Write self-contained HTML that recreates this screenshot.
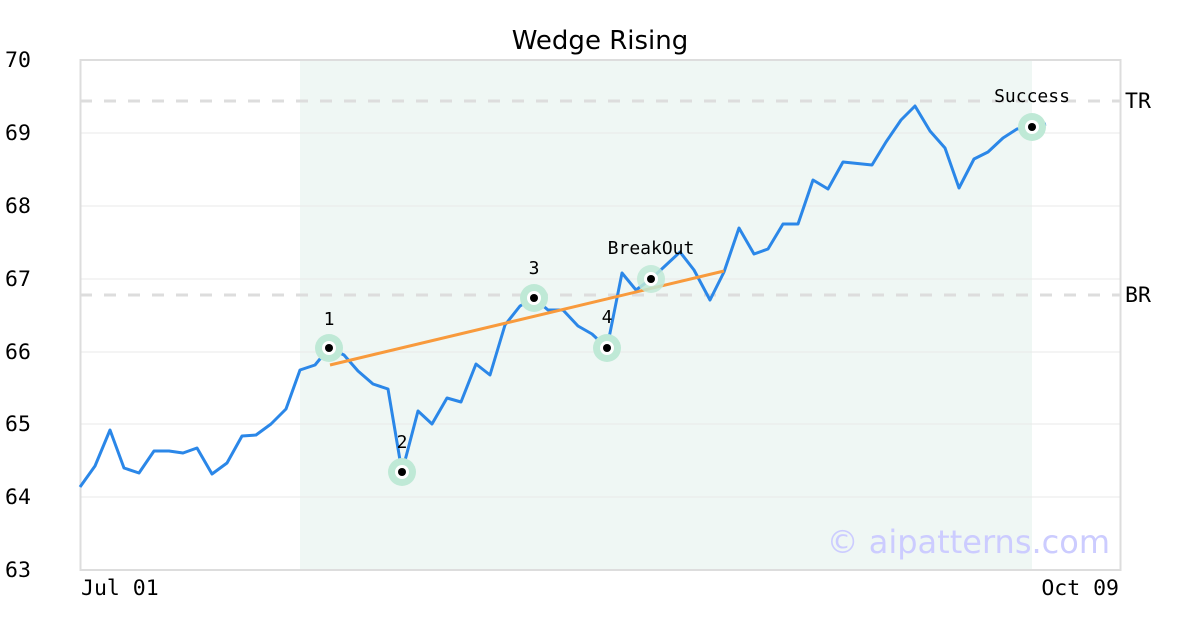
<!DOCTYPE html>
<html><head><style>body{margin:0;background:#fff}svg{display:block}</style></head><body>
<svg width="1200" height="630" xmlns="http://www.w3.org/2000/svg">
<rect width="1200" height="630" fill="#fff"/>
<rect x="300" y="60" width="732" height="510" fill="#eff7f4"/>
<g stroke="#e8e8e8" stroke-width="1">
<line x1="80" y1="133" x2="1120" y2="133"/><line x1="80" y1="206" x2="1120" y2="206"/>
<line x1="80" y1="279" x2="1120" y2="279"/><line x1="80" y1="352" x2="1120" y2="352"/>
<line x1="80" y1="424" x2="1120" y2="424"/><line x1="80" y1="497" x2="1120" y2="497"/>
</g>
<g stroke="#dddddd" stroke-width="3" stroke-dasharray="12,12">
<line x1="80" y1="101" x2="1120" y2="101"/><line x1="80" y1="295" x2="1120" y2="295"/>
</g>
<rect x="80.5" y="60" width="1040" height="510" fill="none" stroke="#dddddd" stroke-width="2"/>
<text x="1110" y="553" text-anchor="end" font-family="DejaVu Sans, sans-serif" font-size="32" fill="#ccccff">© aipatterns.com</text>
<polyline fill="none" stroke="#2b87e8" stroke-width="3" stroke-linejoin="round" points="80,487 95,466 110,430 124,468 139,473 154,451 169,451 183,453 197,448 212,474 227,463 242,436 256,435 271,424 286,409 300,370 315,365 329,348 344,355 358,371 373,384 388,389 402,472 418,411 432,424 447,398 461,402 476,364 490,375 505,325 520,306 534,298 548,310 563,310 578,326 592,334 607,348 622,273 636,290 651,279 665,266 680,252 694,270 710,300 724,272 739,228 754,254 768,249 783,224 798,224 813,180 828,189 843,162 872,165 886,142 901,120 915,106 930,131 945,148 959,188 974,159 988,152 1003,138 1017,129 1032,127 1046,124"/>
<line x1="330" y1="365" x2="724" y2="271" stroke="#f89a3c" stroke-width="3"/>
<g>
<g transform="translate(329,348)"><circle r="14" fill="#bfe9d6"/><circle r="7" fill="#fff"/><circle r="4" fill="#000"/></g>
<g transform="translate(402,472)"><circle r="14" fill="#bfe9d6"/><circle r="7" fill="#fff"/><circle r="4" fill="#000"/></g>
<g transform="translate(534,298)"><circle r="14" fill="#bfe9d6"/><circle r="7" fill="#fff"/><circle r="4" fill="#000"/></g>
<g transform="translate(607,348)"><circle r="14" fill="#bfe9d6"/><circle r="7" fill="#fff"/><circle r="4" fill="#000"/></g>
<g transform="translate(651,279)"><circle r="14" fill="#bfe9d6" fill-opacity="0.85"/><circle r="7" fill="#fff"/><circle r="4" fill="#000"/></g>
<g transform="translate(1032,127)"><circle r="14" fill="#bfe9d6"/><circle r="7" fill="#fff"/><circle r="4" fill="#000"/></g>
</g>
<g font-family="DejaVu Sans Mono, Liberation Mono, monospace" font-size="18" fill="#000" text-anchor="middle">
<text x="329" y="325">1</text><text x="402" y="448">2</text><text x="534" y="274">3</text><text x="607" y="323">4</text>
<text x="651" y="254">BreakOut</text><text x="1032" y="102">Success</text>
</g>
<text x="600" y="49" text-anchor="middle" font-family="DejaVu Sans, sans-serif" font-size="26" fill="#000">Wedge Rising</text>
<g font-family="DejaVu Sans Mono, Liberation Mono, monospace" font-size="21.5" fill="#000">
<text x="5" y="67">70</text><text x="5" y="140">69</text><text x="5" y="213">68</text><text x="5" y="286">67</text>
<text x="5" y="359">66</text><text x="5" y="431">65</text><text x="5" y="504">64</text><text x="5" y="577">63</text>
<text x="1125" y="108">TR</text><text x="1125" y="302">BR</text>
<text x="81" y="595">Jul 01</text><text x="1119" y="595" text-anchor="end">Oct 09</text>
</g>
</svg>
</body></html>
